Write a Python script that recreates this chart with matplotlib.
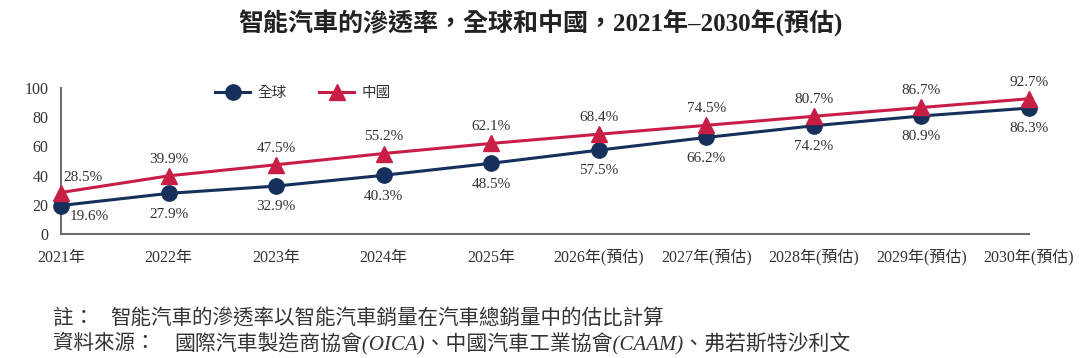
import matplotlib
matplotlib.use("Agg")
import matplotlib.pyplot as plt

plt.rcParams['font.family'] = ['Liberation Serif', 'Noto Sans CJK TC']

years = ['2021年', '2022年', '2023年', '2024年', '2025年',
         '2026年(預估)', '2027年(預估)', '2028年(預估)', '2029年(預估)', '2030年(預估)']
global_pct = [19.6, 27.9, 32.9, 40.3, 48.5, 57.5, 66.2, 74.2, 80.9, 86.3]
china_pct = [28.5, 39.9, 47.5, 55.2, 62.1, 68.4, 74.5, 80.7, 86.7, 92.7]

navy = '#15305a'
red = '#c81e45'
txt = '#333333'

fig = plt.figure(figsize=(10.8, 3.58), dpi=100)
ax = fig.add_axes([0.0565, 0.346, 0.8963, 0.408])

x = list(range(len(years)))
ax.plot(x, global_pct, color=navy, lw=2.2, marker='o', ms=11, label='全球', zorder=3, clip_on=False)
ax.plot(x, china_pct, color=red, lw=2.2, marker='^', ms=11, label='中國', zorder=4, clip_on=False)

for i, (g, c) in enumerate(zip(global_pct, china_pct)):
    if i == 0:
        ax.annotate(f'{c}%', (i, c), xytext=(16, 11), textcoords='offset points',
                    ha='center', va='center', fontsize=11, color=txt)
        ax.annotate(f'{g}%', (i, g), xytext=(20, -8), textcoords='offset points',
                    ha='center', va='center', fontsize=11, color=txt)
    else:
        ax.annotate(f'{c}%', (i, c), xytext=(0, 12), textcoords='offset points',
                    ha='center', va='center', fontsize=11, color=txt)
        ax.annotate(f'{g}%', (i, g), xytext=(0, -15), textcoords='offset points',
                    ha='center', va='center', fontsize=11, color=txt)

# category labels drawn by hand so mixed-font labels share one baseline
for i, lab in enumerate(years):
    dy = -20 + (0.7 if '(' in lab else 0)
    ax.annotate(lab, (i, 0), xycoords=('data', 'axes fraction'), xytext=(0, dy),
                textcoords='offset points', ha='center', va='baseline',
                fontsize=11.5, color=txt, annotation_clip=False)

ax.set_xlim(0, len(years) - 1)
ax.set_ylim(0, 100)
ax.set_yticks([0, 20, 40, 60, 80, 100])
ax.set_xticks(x)
ax.set_xticklabels([])
ax.tick_params(axis='both', length=0, labelsize=11.5, colors=txt)
ax.tick_params(axis='y', pad=9)
for s in ['top', 'right']:
    ax.spines[s].set_visible(False)
for s in ['left', 'bottom']:
    ax.spines[s].set_color('#6e6e6e')
    ax.spines[s].set_linewidth(1.5)

ax.legend(loc='center', bbox_to_anchor=(0.25, 0.965), ncol=2, frameon=False,
          fontsize=10.5, handlelength=2.4, columnspacing=2.2, handletextpad=0.5,
          labelcolor=txt)

fig.text(0.5, 0.935, '智能汽車的滲透率，全球和中國，2021年–2030年(預估)',
         ha='center', va='center', fontsize=18, fontweight='bold', color='#222222')

fig.text(0.049, 0.108, '註：', ha='left', va='center', fontsize=14.8, color=txt, style='italic')
fig.text(0.102, 0.108, '智能汽車的滲透率以智能汽車銷量在汽車總銷量中的估比計算',
         ha='left', va='center', fontsize=14.8, color=txt)
fig.text(0.049, 0.038, '資料來源：', ha='left', va='center', fontsize=14.8, color=txt, style='italic')
fig.text(0.161, 0.038, '國際汽車製造商協會(OICA)、中國汽車工業協會(CAAM)、弗若斯特沙利文',
         ha='left', va='center', fontsize=15, color=txt, style='italic')

fig.savefig('out.png', dpi=100)
